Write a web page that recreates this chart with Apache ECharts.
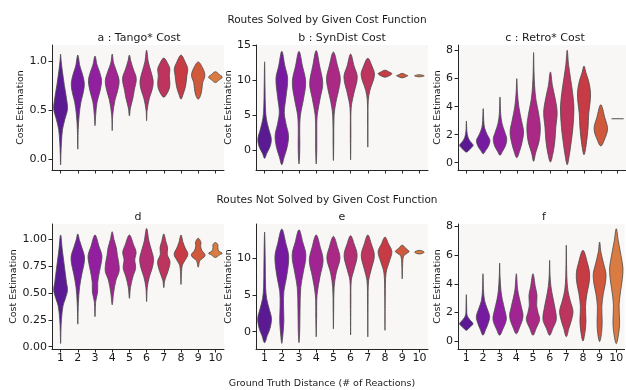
<!DOCTYPE html>
<html>
<head>
<meta charset="utf-8">
<script src="https://cdn.jsdelivr.net/npm/echarts@6/dist/echarts.min.js"></script>
<style>
  html, body { margin: 0; padding: 0; background: #fff; }
  #chart { width: 626px; height: 390px; }
</style>
</head>
<body>
<div id="chart"></div>
<script>
  // categories: ground truth distance
  const categories = ['1', '2', '3', '4', '5', '6', '7', '8', '9', '10'];
  const palette = ['#5b1994', '#761b9f', '#921fa0', '#a02492', '#aa2984', '#b32e73', '#bd345f', '#c63b44', '#d1593b', '#da7b42'];

  // tick labels per panel
  const ticksA = [0, 0.5, 1.0];
  const ticksB = [0, 5, 10, 15];
  const ticksC = [0, 2, 4, 6, 8];
  const ticksD = [0, 0.25, 0.5, 0.75, 1.0];
  const ticksE = [0, 5, 10];
  const ticksF = [0, 2, 4, 6, 8];

  // violins: per category, [value, relative half-width] from bottom to top
  const violinsA = [
    [[-0.06, 0], [0.05, 0.05], [0.17, 0.12], [0.3, 0.28], [0.4, 0.6], [0.51, 1.0], [0.62, 0.85], [0.75, 0.55], [0.9, 0.25], [1.0, 0.08], [1.07, 0]],
    [[0.10, 0], [0.3, 0.06], [0.45, 0.2], [0.58, 0.45], [0.68, 0.8], [0.77, 0.95], [0.86, 0.7], [0.95, 0.3], [1.06, 0]],
    [[0.34, 0], [0.45, 0.1], [0.58, 0.3], [0.7, 0.75], [0.8, 0.95], [0.88, 0.7], [0.96, 0.3], [1.05, 0]],
    [[0.29, 0], [0.45, 0.08], [0.6, 0.4], [0.7, 0.8], [0.8, 1.0], [0.9, 0.6], [0.98, 0.2], [1.07, 0]],
    [[0.44, 0], [0.52, 0.15], [0.62, 0.5], [0.7, 0.7], [0.82, 1.0], [0.92, 0.55], [1.0, 0.2], [1.06, 0]],
    [[0.39, 0], [0.5, 0.08], [0.62, 0.4], [0.72, 0.85], [0.8, 0.95], [0.9, 0.6], [0.99, 0.25], [1.11, 0]],
    [[0.63, 0], [0.66, 0.4], [0.72, 0.8], [0.78, 0.88], [0.85, 0.8], [0.92, 0.88], [0.97, 0.6], [1.03, 0]],
    [[0.61, 0], [0.66, 0.3], [0.74, 0.65], [0.85, 0.85], [0.92, 0.97], [0.99, 0.6], [1.06, 0]],
    [[0.61, 0], [0.65, 0.35], [0.72, 0.55], [0.78, 0.65], [0.85, 0.97], [0.92, 0.7], [0.99, 0]],
    [[0.78, 0], [0.81, 0.6], [0.835, 1.0], [0.86, 0.6], [0.89, 0]]
  ];
  const violinsB = [
    [[-1.2, 0], [-0.5, 0.3], [0.5, 0.8], [1.6, 0.97], [3, 0.6], [4.5, 0.25], [6, 0.12], [9, 0.06], [12.6, 0]],
    [[-2.1, 0], [-1, 0.35], [0.5, 0.8], [2.1, 0.97], [3.8, 0.6], [5.4, 0.36], [7.5, 0.6], [10.2, 0.85], [12, 0.45], [14.1, 0]],
    [[-2, 0], [-1, 0.08], [1, 0.12], [3, 0.1], [5, 0.2], [7, 0.6], [9.7, 0.97], [12, 0.5], [14.1, 0]],
    [[-2, 0], [0, 0.08], [3, 0.08], [5, 0.15], [7.5, 0.6], [9.5, 0.95], [12, 0.5], [14.2, 0]],
    [[-1.5, 0], [1, 0.05], [5, 0.1], [7, 0.4], [8.5, 0.75], [10.2, 1.0], [12, 0.6], [14, 0]],
    [[-1.4, 0], [2, 0.04], [6, 0.08], [8, 0.45], [10.4, 0.97], [12, 0.5], [13.7, 0]],
    [[0.4, 0], [4, 0.03], [7, 0.06], [8.5, 0.3], [10.7, 0.97], [12, 0.6], [13.1, 0]],
    [[10.4, 0], [10.6, 0.6], [10.9, 1.0], [11.1, 0.7], [11.4, 0]],
    [[10.3, 0], [10.5, 0.6], [10.6, 0.82], [10.75, 0.5], [10.95, 0]],
    [[10.45, 0], [10.6, 0.7], [10.75, 0]]
  ];
  const violinsC = [
    [[0.76, 0], [0.95, 0.5], [1.24, 1.0], [1.5, 0.6], [1.8, 0.25], [2.2, 0.08], [2.98, 0]],
    [[0.64, 0], [0.9, 0.4], [1.2, 0.8], [1.6, 1.0], [2.0, 0.6], [2.5, 0.2], [3, 0.08], [3.86, 0]],
    [[0.53, 0], [0.8, 0.35], [1.2, 0.8], [1.7, 1.0], [2.2, 0.7], [2.8, 0.3], [3.5, 0.1], [4.69, 0]],
    [[0.36, 0], [0.8, 0.4], [1.5, 0.8], [2.2, 1.0], [3, 0.7], [4, 0.3], [5, 0.1], [6, 0]],
    [[0.1, 0], [0.7, 0.3], [1.5, 0.8], [2.5, 1.0], [3.5, 0.75], [4.5, 0.35], [5.5, 0.15], [6.5, 0.06], [7.86, 0]],
    [[0.05, 0], [0.6, 0.35], [1.5, 0.65], [2.5, 0.8], [3.6, 1.0], [4.6, 0.7], [5.5, 0.3], [6.48, 0]],
    [[-0.14, 0], [0.5, 0.3], [1.5, 0.6], [2.5, 0.85], [3.9, 1.0], [5, 0.8], [6, 0.5], [7, 0.2], [8.03, 0]],
    [[0.57, 0], [1.2, 0.3], [2.5, 0.6], [3.5, 0.7], [4.3, 0.9], [5, 0.97], [5.8, 0.7], [6.4, 0.3], [6.9, 0]],
    [[1.19, 0], [1.6, 0.5], [2.4, 1.0], [3.2, 0.6], [4.14, 0]],
    [[3.14, 0.9]]
  ];
  const violinsD = [
    [[0.03, 0], [0.15, 0.05], [0.25, 0.12], [0.38, 0.35], [0.45, 0.7], [0.525, 1.0], [0.6, 0.85], [0.75, 0.55], [0.9, 0.25], [1.04, 0]],
    [[0.21, 0], [0.4, 0.08], [0.55, 0.25], [0.68, 0.6], [0.77, 0.9], [0.84, 0.97], [0.92, 0.6], [0.99, 0.25], [1.05, 0]],
    [[0.28, 0], [0.42, 0.1], [0.51, 0.38], [0.6, 0.4], [0.7, 0.65], [0.78, 0.9], [0.85, 1.0], [0.93, 0.6], [1.04, 0]],
    [[0.39, 0], [0.5, 0.2], [0.62, 0.55], [0.7, 1.0], [0.78, 0.95], [0.85, 0.75], [0.92, 0.6], [1.0, 0.25], [1.07, 0]],
    [[0.45, 0], [0.55, 0.15], [0.65, 0.5], [0.73, 0.9], [0.81, 0.78], [0.88, 0.97], [0.95, 0.6], [1.04, 0]],
    [[0.42, 0], [0.55, 0.1], [0.65, 0.4], [0.74, 0.85], [0.82, 1.0], [0.9, 0.7], [0.98, 0.35], [1.1, 0]],
    [[0.55, 0], [0.62, 0.15], [0.7, 0.6], [0.79, 0.9], [0.86, 0.5], [0.92, 0.55], [0.98, 0.3], [1.05, 0]],
    [[0.58, 0], [0.7, 0.08], [0.76, 0.2], [0.8, 0.55], [0.86, 1.0], [0.92, 0.6], [0.97, 0.3], [1.04, 0]],
    [[0.74, 0], [0.8, 0.25], [0.85, 1.0], [0.9, 0.5], [0.94, 0.35], [0.97, 0.4], [1.01, 0]],
    [[0.83, 0], [0.855, 0.6], [0.87, 1.0], [0.89, 0.5], [0.92, 0.35], [0.95, 0.35], [0.97, 0]]
  ];
  const violinsE = [
    [[-1.5, 0], [-0.5, 0.4], [0.5, 0.8], [1.8, 1.0], [3, 0.7], [4.5, 0.3], [6, 0.15], [9, 0.1], [12, 0.05], [13.6, 0]],
    [[-1.6, 0], [-0.5, 0.15], [1.5, 0.3], [3.5, 0.25], [5.5, 0.3], [7.5, 0.7], [10.2, 1.0], [12, 0.6], [14, 0]],
    [[-1.5, 0], [0, 0.1], [3, 0.15], [6, 0.25], [8, 0.6], [10.4, 1.0], [12.2, 0.55], [13.9, 0]],
    [[-0.7, 0], [2, 0.06], [5, 0.12], [7.5, 0.55], [9.7, 1.0], [11.5, 0.6], [13.2, 0]],
    [[0.36, 0], [3, 0.04], [6, 0.1], [8, 0.4], [10, 0.95], [11.5, 0.6], [13, 0]],
    [[-0.45, 0], [4, 0.04], [7, 0.1], [8.5, 0.5], [10.4, 0.95], [12, 0.5], [13.1, 0]],
    [[-0.7, 0], [4, 0.04], [7, 0.12], [8.5, 0.5], [10.4, 0.95], [12, 0.5], [13.2, 0]],
    [[0.19, 0], [5, 0.04], [8, 0.15], [9.5, 0.6], [10.9, 1.0], [12, 0.5], [12.9, 0]],
    [[7.2, 0], [9, 0.06], [10.3, 0.2], [10.7, 0.7], [10.95, 1.0], [11.3, 0.6], [11.8, 0]],
    [[10.6, 0], [10.85, 0.7], [11.1, 0]]
  ];
  const violinsF = [
    [[0.75, 0], [0.95, 0.5], [1.2, 1.0], [1.5, 0.5], [1.8, 0.12], [2.4, 0.05], [3.24, 0]],
    [[0.4, 0], [0.8, 0.4], [1.2, 0.75], [1.7, 1.0], [2.3, 0.6], [2.8, 0.25], [3.5, 0.08], [4.7, 0]],
    [[0.4, 0], [0.8, 0.45], [1.5, 1.0], [2.2, 0.75], [2.9, 0.4], [3.5, 0.2], [4.5, 0.06], [5.45, 0]],
    [[0.5, 0], [0.9, 0.45], [1.7, 1.0], [2.4, 0.75], [3.0, 0.45], [3.6, 0.2], [4.7, 0]],
    [[0.4, 0], [0.9, 0.5], [1.5, 1.0], [2.0, 0.75], [2.5, 0.55], [3.2, 0.6], [3.8, 0.35], [4.7, 0]],
    [[0.4, 0], [0.9, 0.5], [1.5, 1.0], [2.3, 0.8], [3.0, 0.5], [3.8, 0.2], [4.6, 0.06], [5.64, 0]],
    [[0.3, 0], [0.9, 0.4], [1.5, 0.8], [2.1, 1.0], [2.8, 0.6], [3.5, 0.25], [4.5, 0.08], [6.7, 0]],
    [[0, 0], [0.6, 0.3], [1.4, 0.45], [2.4, 0.38], [3.3, 0.6], [4.0, 0.9], [4.7, 1.0], [5.4, 0.7], [6.34, 0]],
    [[-0.04, 0], [0.6, 0.3], [1.4, 0.38], [2.4, 0.33], [3.3, 0.55], [4.0, 0.85], [4.7, 0.95], [5.4, 0.6], [6.2, 0.2], [6.92, 0]],
    [[-0.19, 0], [0.5, 0.35], [1.3, 0.5], [2.5, 0.42], [3.5, 0.65], [4.3, 0.9], [5.1, 1.0], [6, 0.7], [7, 0.3], [7.85, 0]]
  ];

  const panels = [
    { violins: violinsA, ticks: ticksA, min: -0.112, max: 1.163, dec: 1, left: 52, top: 45, gap: 25, bottom: false },
    { violins: violinsB, ticks: ticksB, min: -2.86, max: 15.0, dec: 0, left: 256, top: 45, gap: 21, bottom: false },
    { violins: violinsC, ticks: ticksC, min: -0.52, max: 8.4, dec: 0, left: 458, top: 45, gap: 13, bottom: false },
    { violins: violinsD, ticks: ticksD, min: -0.021, max: 1.142, dec: 2, left: 52, top: 224, gap: 32, bottom: true },
    { violins: violinsE, ticks: ticksE, min: -2.36, max: 14.69, dec: 0, left: 256, top: 224, gap: 21, bottom: true },
    { violins: violinsF, ticks: ticksF, min: -0.56, max: 8.18, dec: 0, left: 458, top: 224, gap: 13, bottom: true }
  ];

  const axisColor = '#262626';
  const font = 'DejaVu Sans';

  function makeRender(violins) {
    return function (params, api) {
      const i = api.value(0);
      const knots = violins[i];
      const cx = api.coord([i, 0])[0];
      const half = api.size([1, 0])[0] * 0.4;
      if (knots.length === 1) {
        const y = api.coord([i, knots[0][0]])[1];
        return {
          type: 'line',
          shape: { x1: cx - half * knots[0][1], y1: y, x2: cx + half * knots[0][1], y2: y },
          style: { stroke: '#6a6a6a', lineWidth: 1.2 }
        };
      }
      const right = knots.map(k => [cx + k[1] * half, api.coord([i, k[0]])[1]]);
      const left = knots.slice().reverse().map(k => [cx - k[1] * half, api.coord([i, k[0]])[1]]);
      return {
        type: 'polygon',
        shape: { points: right.concat(left.slice(1, -1)), smooth: 0.35 },
        style: { fill: palette[i], stroke: '#4a4a4a', lineWidth: 0.8 }
      };
    };
  }

  const chart = echarts.init(document.getElementById('chart'), null, { renderer: 'canvas' });

  const option = {
    backgroundColor: '#ffffff',
    animation: false,
    textStyle: { fontFamily: font },
    grid: panels.map(p => ({
      left: p.left, top: p.top, width: 172, height: 125,
      show: true, backgroundColor: '#f8f7f5', borderWidth: 0
    })),
    xAxis: panels.map((p, g) => ({
      type: 'category',
      gridIndex: g,
      data: categories,
      boundaryGap: true,
      axisLine: { onZero: false, lineStyle: { color: axisColor, width: 1 } },
      axisTick: { show: true, alignWithLabel: true, length: 3.5, lineStyle: { color: axisColor } },
      axisLabel: { show: p.bottom, fontSize: 11, margin: 4, color: '#1a1a1a', fontFamily: font, interval: 0 },
      splitLine: { show: false }
    })),
    yAxis: panels.map((p, g) => ({
      type: 'value',
      gridIndex: g,
      min: p.min,
      max: p.max,
      name: 'Cost Estimation',
      nameLocation: 'middle',
      nameGap: p.gap,
      nameTextStyle: { fontSize: 9.5, color: '#1a1a1a', fontFamily: font },
      axisLine: { show: true, lineStyle: { color: axisColor, width: 1 } },
      axisTick: { show: true, length: 3.5, customValues: p.ticks, lineStyle: { color: axisColor } },
      axisLabel: {
        fontSize: 11, margin: 5, color: '#1a1a1a', fontFamily: font,
        customValues: p.ticks,
        formatter: v => Number(v).toFixed(p.dec)
      },
      splitLine: { show: false }
    })),
    series: panels.map((p, g) => ({
      type: 'custom',
      xAxisIndex: g,
      yAxisIndex: g,
      renderItem: makeRender(p.violins),
      encode: { x: 0, y: [1, 2] },
      clip: true,
      data: p.violins.map((v, i) => [i, v[0][0], v[v.length - 1][0]])
    })),
    graphic: [
      ['Routes Solved by Given Cost Function', 327, 20, 10.5],
      ['a : Tango* Cost', 139, 38, 11],
      ['b : SynDist Cost', 342, 38, 11],
      ['c : Retro* Cost', 545, 38, 11],
      ['Routes Not Solved by Given Cost Function', 327, 200, 10.5],
      ['d', 138, 217, 11],
      ['e', 342, 217, 11],
      ['f', 544, 217, 11],
      ['Ground Truth Distance (# of Reactions)', 322, 384, 9.5]
    ].map(t => ({
      type: 'text',
      x: t[1],
      y: t[2],
      style: {
        text: t[0],
        font: t[3] + 'px "' + font + '"',
        fill: '#1a1a1a',
        align: 'center',
        verticalAlign: 'middle',
        textAlign: 'center',
        textVerticalAlign: 'middle'
      }
    }))
  };

  chart.setOption(option);
</script>
</body>
</html>
